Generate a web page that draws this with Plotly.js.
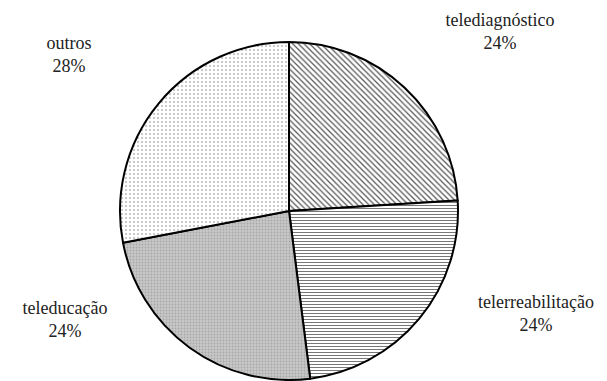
<!DOCTYPE html>
<html>
<head>
<meta charset="utf-8">
<script src="https://cdn.plot.ly/plotly-3.0.1.min.js"></script>
<style>html,body{margin:0;padding:0;background:#fff;}</style>
</head>
<body>
<div id="piechart" style="width:607px;height:381px"></div>
<script>
const sliceLabels = ["telediagnóstico", "telerreabilitação", "teleducação", "outros"];
const sliceValues = [24, 24, 24, 28];
const sliceTexts = ["telediagnóstico<br>24%", "telerreabilitação<br>24%", "teleducação<br>24%", "outros<br>28%"];

function drawPie() {
  var pw = 607, ph = 381;
  var pcx = 289, pcy = 211, prad = 169;
  var textX = [500, 536, 65, 69];
  var textY = [33, 315, 321, 56];
  var pie = {
    type: "pie",
    labels: sliceLabels,
    values: sliceValues,
    sort: false,
    direction: "clockwise",
    textinfo: "none",
    showlegend: false,
    domain: {
      x: [(pcx - prad) / pw, (pcx + prad) / pw],
      y: [(ph - (pcy + prad)) / ph, (ph - (pcy - prad)) / ph]
    },
    marker: {
      colors: ["#ffffff", "#ffffff", "#c4c4c4", "#ffffff"],
      line: {color: "#000000", width: 2},
      pattern: {
        shape: ["\\", "-", ".", "."],
        fgcolor: ["#555555", "#777777", "#a8a8a8", "#b8b8b8"],
        bgcolor: ["#ffffff", "#ffffff", "#c8c8c8", "#ffffff"],
        size: [4, 3, 3, 4],
        solidity: [0.3, 0.35, 0.3, 0.2],
        fillmode: "replace"
      }
    }
  };
  var labelsTrace = {
    type: "scatter",
    mode: "text",
    x: textX,
    y: textY,
    text: sliceTexts,
    textposition: "middle center",
    textfont: {family: "Liberation Serif", size: 18, color: "#222222"},
    hoverinfo: "skip",
    showlegend: false,
    cliponaxis: false
  };
  Plotly.newPlot("piechart", [pie, labelsTrace], {
    width: pw, height: ph,
    margin: {l: 0, r: 0, t: 0, b: 0},
    font: {family: "Liberation Serif"},
    xaxis: {range: [0, pw], visible: false, fixedrange: true},
    yaxis: {range: [ph, 0], visible: false, fixedrange: true},
    plot_bgcolor: "rgba(0,0,0,0)",
    paper_bgcolor: "#ffffff"
  }, {displayModeBar: false, staticPlot: true});
}
drawPie();
</script>
</body>
</html>
